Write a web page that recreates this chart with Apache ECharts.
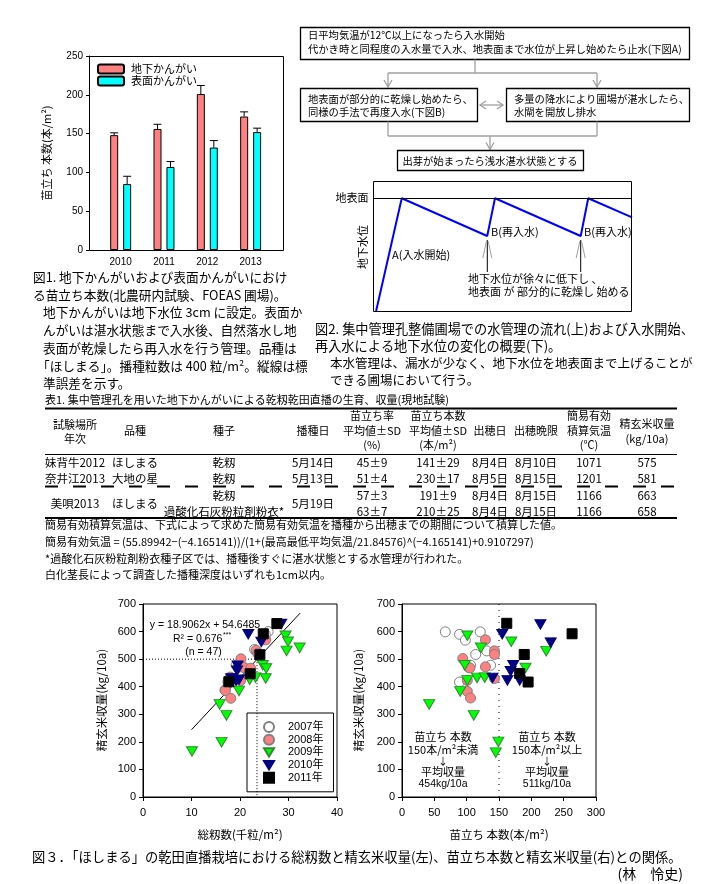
<!DOCTYPE html>
<html><head><meta charset="utf-8">
<script src="https://cdn.jsdelivr.net/npm/echarts@6/dist/echarts.min.js"></script>
<style>html,body{margin:0;padding:0;background:#fff}#c{width:705px;height:884px}</style>
</head><body><div id="c"></div>
<script>
// ===== Fig.1 : seedling stand (bar chart) =====
const barYears = ['2010', '2011', '2012', '2013'];
const subIrrigation = [148, 156, 201, 172];
const subIrrigationSE = [3, 6, 11, 6];
const surfaceIrrigation = [85, 107, 132, 152];
const surfaceIrrigationSE = [10, 7, 9, 5];

// ===== Fig.2 : schematic groundwater level (time, level; ground surface = 100) =====
const waterTime = [1.2, 11.1, 44.1, 47.1, 80.2, 83.1, 100];
const waterLevel = [0, 100, 66.5, 100, 66.5, 100, 83];

// ===== Table 1 =====
const tableHeader = [
  ['試験場所', '年次'], ['品種'], ['種子'], ['播種日'], ['苗立ち率', '平均値±SD', '(%)'],
  ['苗立ち本数', '平均値±SD', '(本/m²)'], ['出穂日'], ['出穂晩限'], ['簡易有効', '積算気温', '(℃)'], ['精玄米収量', '(kg/10a)']
];
const tableRows = [
  ['妹背牛2012', 'ほしまる', '乾籾', '5月14日', '45±9', '141±29', '8月4日', '8月10日', '1071', '575'],
  ['奈井江2013', '大地の星', '乾籾', '5月13日', '51±4', '230±17', '8月5日', '8月15日', '1201', '581'],
  ['', '', '乾籾', '', '57±3', '191±9', '8月4日', '8月15日', '1166', '663'],
  ['', '', '過酸化石灰粉粒剤粉衣*', '', '63±7', '210±25', '8月4日', '8月15日', '1166', '658']
];
const tableMerged = ['美唄2013', 'ほしまる', '5月19日'];
const tableNotes = [
  '簡易有効積算気温は、下式によって求めた簡易有効気温を播種から出穂までの期間について積算した値。',
  '簡易有効気温 = (55.89942−(−4.165141))/(1+(最高最低平均気温/21.84576)^(−4.165141)+0.9107297)',
  '*過酸化石灰粉粒剤粉衣種子区では、播種後すぐに湛水状態とする水管理が行われた。',
  '白化茎長によって調査した播種深度はいずれも1cm以内。'
];

// ===== Fig.3 left : total spikelets (千粒/m2) vs yield (kg/10a) =====
const spk2007 = [[25.8,600],[25.2,590],[23.0,535],[23.5,527],[19.2,478],[19.6,470],[17.5,418],[16.9,388],[18.6,430],[21.0,467]];
const spk2008 = [[25.3,570],[23.3,532],[23.7,520],[20.2,501],[20.8,470],[22.2,467],[20.1,422],[18.0,435],[17.0,386],[18.1,358]];
const spk2009 = [[10.1,165],[16.2,199],[17.2,296],[15.8,336],[19.8,385],[22.0,425],[23.2,433],[25.3,430],[24.7,478],[25.4,466],[29.4,585],[29.9,563],[29.6,530],[32.3,541]];
const spk2010 = [[28.5,628],[21.7,590],[24.4,562],[19.5,476],[19.4,458],[18.2,430],[19.8,425],[19.2,422]];
const spk2011 = [[27.6,629],[24.8,592],[24.1,516],[22.1,447],[17.7,418]];
const regressionEnds = [[10, 244], [32.4, 667]];
const spkCutX = 23.5, yieldCut = 500;

// ===== Fig.3 right : seedlings (本/m2) vs yield (kg/10a) =====
const sdl2007 = [[67,599],[89,590],[98,569],[121,599],[114,517],[131,530],[137,478],[106,478],[89,417],[103,470]];
const sdl2008 = [[129,570],[143,530],[143,517],[94,502],[105,468],[129,472],[143,430],[101,423],[101,383],[106,359]];
const sdl2009 = [[101,585],[122,541],[97,478],[101,423],[116,432],[128,433],[90,383],[42,336],[111,296],[169,563],[191,468],[223,529],[149,200],[145,161]];
const sdl2010 = [[155,590],[214,626],[230,560],[172,478],[168,456],[163,423],[182,423],[140,432]];
const sdl2011 = [[162,630],[263,592],[189,517],[182,448],[195,417]];
const sdlCut = 150;

const yearNames = ['2007年', '2008年', '2009年', '2010年', '2011年'];

// ---------------------------------------------------------------
const JP = '"Noto Sans CJK JP"';
const LS = '"Liberation Sans","Noto Sans CJK JP"';
const G = [];
function T(x, y, text, o) {
  o = o || {};
  const el = {type: 'text', x: x, y: y, rotation: o.rot || 0, z: 50, silent: true,
    style: {text: text, font: (o.w || 'normal') + ' ' + (o.s || 11) + 'px ' + (o.f || JP),
      fill: o.c || '#000', align: o.a || 'left', verticalAlign: o.v || 'middle'}};
  G.push(el);
}
function L(x1, y1, x2, y2, o) {
  o = o || {};
  G.push({type: 'line', z: o.z || 40, silent: true, shape: {x1: x1, y1: y1, x2: x2, y2: y2},
    style: {stroke: o.c || '#000', lineWidth: o.lw || 1, lineDash: o.dash || null}});
}
function P(pts, o) {
  o = o || {};
  G.push({type: 'polyline', z: 40, silent: true, shape: {points: pts},
    style: {stroke: o.c || '#000', lineWidth: o.lw || 1, fill: null}});
}
function R(x, y, w, h, o) {
  o = o || {};
  G.push({type: 'rect', z: o.z || 40, silent: true, shape: {x: x, y: y, width: w, height: h},
    style: {stroke: o.c || '#000', lineWidth: o.lw || 1, fill: o.fill || 'none'}});
}
const GR = '#A0A0A0';
function arrowDown(x, y) { P([[x - 4, y - 7], [x, y], [x + 4, y - 7]], {c: GR, lw: 1.3}); }

// ---- Fig.1 frame & texts
R(89.5, 56.5, 194, 194);
T(47, 153, '苗立ち 本数(本/m²)', {rot: Math.PI / 2, a: 'center', s: 11});
const cap1 = [
  [33, 277, '図1. 地下かんがいおよび表面かんがいにおけ'],
  [33, 295, 'る苗立ち本数(北農研内試験、FOEAS 圃場)。'],
  [43, 312, '地下かんがいは地下水位 3cm に設定。表面か'],
  [43, 330, 'んがいは湛水状態まで入水後、自然落水し地'],
  [43, 348, '表面が乾燥したら再入水を行う管理。品種は'],
  [37, 366, '「ほしまる」。播種粒数は 400 粒/m²。縦線は標'],
  [43, 383, '準誤差を示す。']
];
cap1.forEach(c => T(c[0], c[1], c[2], {s: 12.7}));

// ---- Flowchart
R(300.5, 27.5, 389, 32, {lw: 1.3});
T(308, 35.5, '日平均気温が12℃以上になったら入水開始', {s: 10.3});
T(308, 49.5, '代かき時と同程度の入水量で入水、地表面まで水位が上昇し始めたら止水(下図A)', {s: 10.3});
L(475, 59.5, 475, 73, {c: GR, lw: 1.3});
L(388, 73, 597, 73, {c: GR, lw: 1.3});
L(388, 73, 388, 87, {c: GR, lw: 1.3}); arrowDown(388, 87);
L(597, 73, 597, 87, {c: GR, lw: 1.3}); arrowDown(597, 87);
R(300.5, 88.5, 177, 33, {lw: 1.3});
T(308, 99, '地表面が部分的に乾燥し始めたら、', {s: 10.3});
T(308, 112, '同様の手法で再度入水(下図B)', {s: 10.3});
R(506.5, 88.5, 183, 33, {lw: 1.3});
T(514, 99, '多量の降水により圃場が湛水したら、', {s: 10.3});
T(514, 112, '水閘を開放し排水', {s: 10.3});
L(480, 105, 503, 105, {c: GR, lw: 1.3});
P([[486, 101], [480, 105], [486, 109]], {c: GR, lw: 1.3});
P([[497, 101], [503, 105], [497, 109]], {c: GR, lw: 1.3});
L(388, 121.5, 388, 136, {c: GR, lw: 1.3});
L(597, 121.5, 597, 136, {c: GR, lw: 1.3});
L(388, 136, 597, 136, {c: GR, lw: 1.3});
L(490, 136, 490, 149.5, {c: GR, lw: 1.3}); arrowDown(490, 149.5);
R(397.5, 150.5, 186, 20, {lw: 1.3});
T(490, 161, '出芽が始まったら浅水湛水状態とする', {s: 10.3, a: 'center'});

// ---- Water level diagram
R(373.5, 181.5, 258, 130);
L(373.5, 198.5, 631.5, 198.5);
T(352, 198, '地表面', {s: 11, a: 'center'});
T(363, 247, '地下水位', {rot: Math.PI / 2, a: 'center', s: 11});
T(392, 255, 'A(入水開始)', {s: 11});
T(491, 232, 'B(再入水)', {s: 11});
T(584, 232, 'B(再入水)', {s: 11});
[487.3, 580.7].forEach(x => {
  L(x, 240, x, 272);
  L(x - 4.5, 258, x - 0.8, 241, {c: GR});
  L(x + 4.5, 258, x + 0.8, 241, {c: GR});
});
T(468, 279, '地下水位が徐々に低下し 、', {s: 11});
T(468, 292, '地表面 が 部分的に乾燥し 始める', {s: 11});

// ---- Fig.2 caption
T(315, 329, '図2. 集中管理孔整備圃場での水管理の流れ(上)および入水開始、', {s: 13.2});
T(315, 346, '再入水による地下水位の変化の概要(下)。', {s: 13.2});
T(330, 363, '本水管理は、漏水が少なく、地下水位を地表面まで上げることが', {s: 12.5});
T(330, 380, 'できる圃場において行う。', {s: 12.5});

// ---- Table
const tX = [75, 135, 224, 313, 372, 438, 490, 536, 589, 647];
T(45, 400, '表1. 集中管理孔を用いた地下かんがいによる乾籾乾田直播の生育、収量(現地試験)', {s: 11});
L(45, 408.5, 677, 408.5, {lw: 2});
tableHeader.forEach((h, i) => {
  let ys;
  if (h.length === 1) ys = [431];
  else if (h.length === 2) ys = i === 0 ? [424.5, 439] : [424, 439];
  else ys = [416, 431, 445];
  h.forEach((t, k) => T(tX[i], ys[k], t, {s: 11, a: 'center'}));
});
L(45, 454.5, 677, 454.5, {lw: 1});
L(45, 486.5, 677, 486.5, {lw: 2, dash: [13, 15], z: 30});
const rowY = [463, 479, 495.5, 511.5];
tableRows.forEach((r, ri) => r.forEach((t, ci) => { if (t) T(tX[ci], rowY[ri], t, {s: 11.5, a: 'center'}); }));
T(tX[0], 503.5, tableMerged[0], {s: 11.5, a: 'center'});
T(tX[1], 503.5, tableMerged[1], {s: 11.5, a: 'center'});
T(tX[3], 503.5, tableMerged[2], {s: 11.5, a: 'center'});
L(45, 518, 677, 518, {lw: 2});
const noteY = [525, 542, 559, 575];
tableNotes.forEach((t, i) => T(45, noteY[i], t, {s: 11}));

// ---- Fig.3 annotations
T(205, 625, 'y = 18.9062x + 54.6485', {s: 10.5, f: LS, a: 'center'});
T(173, 639, 'R² = 0.676', {s: 10.5, f: LS});
T(223, 635, '***', {s: 7, f: LS});
T(203.5, 652, '(n = 47)', {s: 10.5, f: LS, a: 'center'});
T(101.5, 700, '精玄米収量(kg/10a)', {rot: Math.PI / 2, a: 'center', s: 11.5});
T(240, 835, '総籾数(千粒/m²)', {s: 11.5, a: 'center'});
T(359, 700, '精玄米収量(kg/10a)', {rot: Math.PI / 2, a: 'center', s: 11.5});
T(499, 835, '苗立ち 本数(本/m²)', {s: 11.5, a: 'center'});
[[443, '150本/m²未満', '454kg/10a'], [547, '150本/m²以上', '511kg/10a']].forEach(b => {
  T(b[0], 737, '苗立ち 本数', {s: 11, a: 'center'});
  T(b[0], 750, b[1], {s: 11, a: 'center'});
  T(b[0], 761, '↓', {s: 10, a: 'center'});
  T(b[0], 772, '平均収量', {s: 11, a: 'center'});
  T(b[0], 784, b[2], {s: 10.5, f: LS, a: 'center'});
});

// ---- Fig.3 caption
T(32, 857, '図３．「ほしまる」の乾田直播栽培における総籾数と精玄米収量(左)、苗立ち本数と精玄米収量(右)との関係。', {s: 13.3});
T(683, 874, '(林　怜史)', {s: 14, a: 'right'});

// ---------------------------------------------------------------
function errRender(off) {
  return function (params, api) {
    const p0 = api.coord([api.value(0), api.value(1)]);
    const p1 = api.coord([api.value(0), api.value(2)]);
    const x = p0[0] + off;
    return {type: 'group', children: [
      {type: 'line', shape: {x1: x, y1: p0[1], x2: x, y2: p1[1]}, style: {stroke: '#000', lineWidth: 1}},
      {type: 'line', shape: {x1: x - 4, y1: p1[1], x2: x + 4, y2: p1[1]}, style: {stroke: '#000', lineWidth: 1}}
    ]};
  };
}
const TRI_DOWN = 'path://M0,0L12,0L6,10Z';
const styles = [
  {symbol: 'circle', size: 10, color: '#FFFFFF', border: '#808080'},
  {symbol: 'circle', size: 10, color: '#FF8080', border: '#808080'},
  {symbol: TRI_DOWN, size: [11, 9.5], color: '#00FF00', border: '#2E8B2E'},
  {symbol: TRI_DOWN, size: [11, 9.5], color: '#000080', border: '#000080'},
  {symbol: 'rect', size: 10, color: '#000000', border: '#000000'}
];
function scat(i, data, ax) {
  const s = styles[i];
  return {type: 'scatter', name: yearNames[i], xAxisIndex: ax, yAxisIndex: ax, data: data,
    symbol: s.symbol, symbolSize: s.size, z: 3 + i,
    itemStyle: {color: s.color, borderColor: s.border, borderWidth: 1, opacity: 1}};
}
const axLine = {show: true, lineStyle: {color: '#000', width: 1}};
function valAxis(gi, min, max, itv, margin) {
  return {gridIndex: gi, type: 'value', min: min, max: max, interval: itv,
    axisLine: axLine, axisTick: {show: true, length: 4, inside: false, lineStyle: {color: '#000'}},
    splitLine: {show: false},
    axisLabel: {show: true, color: '#000', fontSize: 11, fontFamily: LS, margin: margin}};
}

const option = {
  animation: false,
  backgroundColor: '#fff',
  grid: [
    {left: 99, top: 56, width: 173.3, height: 194, outerBoundsMode: 'none'},
    {left: 373, top: 181, width: 259, height: 130, outerBoundsMode: 'none'},
    {left: 143, top: 604, width: 194, height: 193, show: true, borderColor: '#000', borderWidth: 1, backgroundColor: 'transparent', outerBoundsMode: 'none'},
    {left: 402, top: 604, width: 194, height: 193, show: true, borderColor: '#000', borderWidth: 1, backgroundColor: 'transparent', outerBoundsMode: 'none'}
  ],
  xAxis: [
    {gridIndex: 0, type: 'category', data: barYears, axisLine: {show: false}, axisTick: {show: false},
      axisLabel: {color: '#000', fontSize: 10, fontFamily: LS, margin: 7}},
    {gridIndex: 1, type: 'value', min: 0, max: 100, show: false},
    valAxis(2, 0, 40, 10, 10),
    valAxis(3, 0, 300, 50, 10)
  ],
  yAxis: [
    {gridIndex: 0, type: 'value', min: 0, max: 250, interval: 50, offset: 10,
      axisLine: axLine, axisTick: {show: true, length: 3, lineStyle: {color: '#000'}},
      splitLine: {show: false}, axisLabel: {color: '#000', fontSize: 10, fontFamily: LS, margin: 6}},
    {gridIndex: 1, type: 'value', min: 0, max: 115.3, show: false},
    valAxis(2, 0, 700, 100, 7),
    valAxis(3, 0, 700, 100, 7)
  ],
  legend: [
    {data: ['地下かんがい', '表面かんがい'], orient: 'vertical', left: 97, top: 63, itemWidth: 26, itemHeight: 9,
      itemGap: 0, padding: 0, textStyle: {fontSize: 11, fontFamily: JP, color: '#000', lineHeight: 12, padding: [0, 0, 0, 2]}, selectedMode: false},
    {data: yearNames, orient: 'vertical', left: 247, top: 713, itemWidth: 10, itemHeight: 10, itemGap: 0.7,
      padding: [8, 10, 8, 16], borderColor: '#000', borderWidth: 1, backgroundColor: 'transparent',
      textStyle: {fontSize: 11, fontFamily: LS, color: '#000', lineHeight: 12, padding: [0, 0, 0, 9]}, selectedMode: false}
  ],
  series: [
    {type: 'bar', name: '地下かんがい', xAxisIndex: 0, yAxisIndex: 0, data: subIrrigation, barWidth: 8, barGap: '62%',
      itemStyle: {color: '#FF8080', borderColor: '#000', borderWidth: 1}},
    {type: 'bar', name: '表面かんがい', xAxisIndex: 0, yAxisIndex: 0, data: surfaceIrrigation, barWidth: 8, barGap: '62%',
      itemStyle: {color: '#00FFFF', borderColor: '#000', borderWidth: 1}},
    {type: 'custom', xAxisIndex: 0, yAxisIndex: 0, z: 5, renderItem: errRender(-6.5), encode: {x: 0, y: 1},
      data: subIrrigation.map((v, i) => [i, v, v + subIrrigationSE[i]])},
    {type: 'custom', xAxisIndex: 0, yAxisIndex: 0, z: 5, renderItem: errRender(6.5), encode: {x: 0, y: 1},
      data: surfaceIrrigation.map((v, i) => [i, v, v + surfaceIrrigationSE[i]])},
    {type: 'line', xAxisIndex: 1, yAxisIndex: 1, data: waterTime.map((t, i) => [t, waterLevel[i]]),
      showSymbol: false, symbol: 'none', lineStyle: {color: '#0000FF', width: 2}, silent: true},
    {type: 'line', xAxisIndex: 2, yAxisIndex: 2, data: regressionEnds, symbol: 'none', silent: true, z: 2,
      lineStyle: {color: '#000', width: 1}},
    {type: 'line', xAxisIndex: 2, yAxisIndex: 2, data: [[0, yieldCut], [spkCutX, yieldCut], [spkCutX, 0]], symbol: 'none', silent: true, z: 1,
      lineStyle: {color: '#000', width: 1, type: [1, 2]}},
    {type: 'line', xAxisIndex: 3, yAxisIndex: 3, data: [[sdlCut, 0], [sdlCut, 700]], symbol: 'none', silent: true, z: 1,
      lineStyle: {color: '#000', width: 1, type: [1, 5]}},
    scat(0, spk2007, 2), scat(1, spk2008, 2), scat(2, spk2009, 2), scat(3, spk2010, 2), scat(4, spk2011, 2),
    scat(0, sdl2007, 3), scat(1, sdl2008, 3), scat(2, sdl2009, 3), scat(3, sdl2010, 3), scat(4, sdl2011, 3)
  ],
  graphic: {elements: G}
};
const chart = echarts.init(document.getElementById('c'), null, {renderer: 'canvas'});
chart.setOption(option);
</script>
</body></html>
